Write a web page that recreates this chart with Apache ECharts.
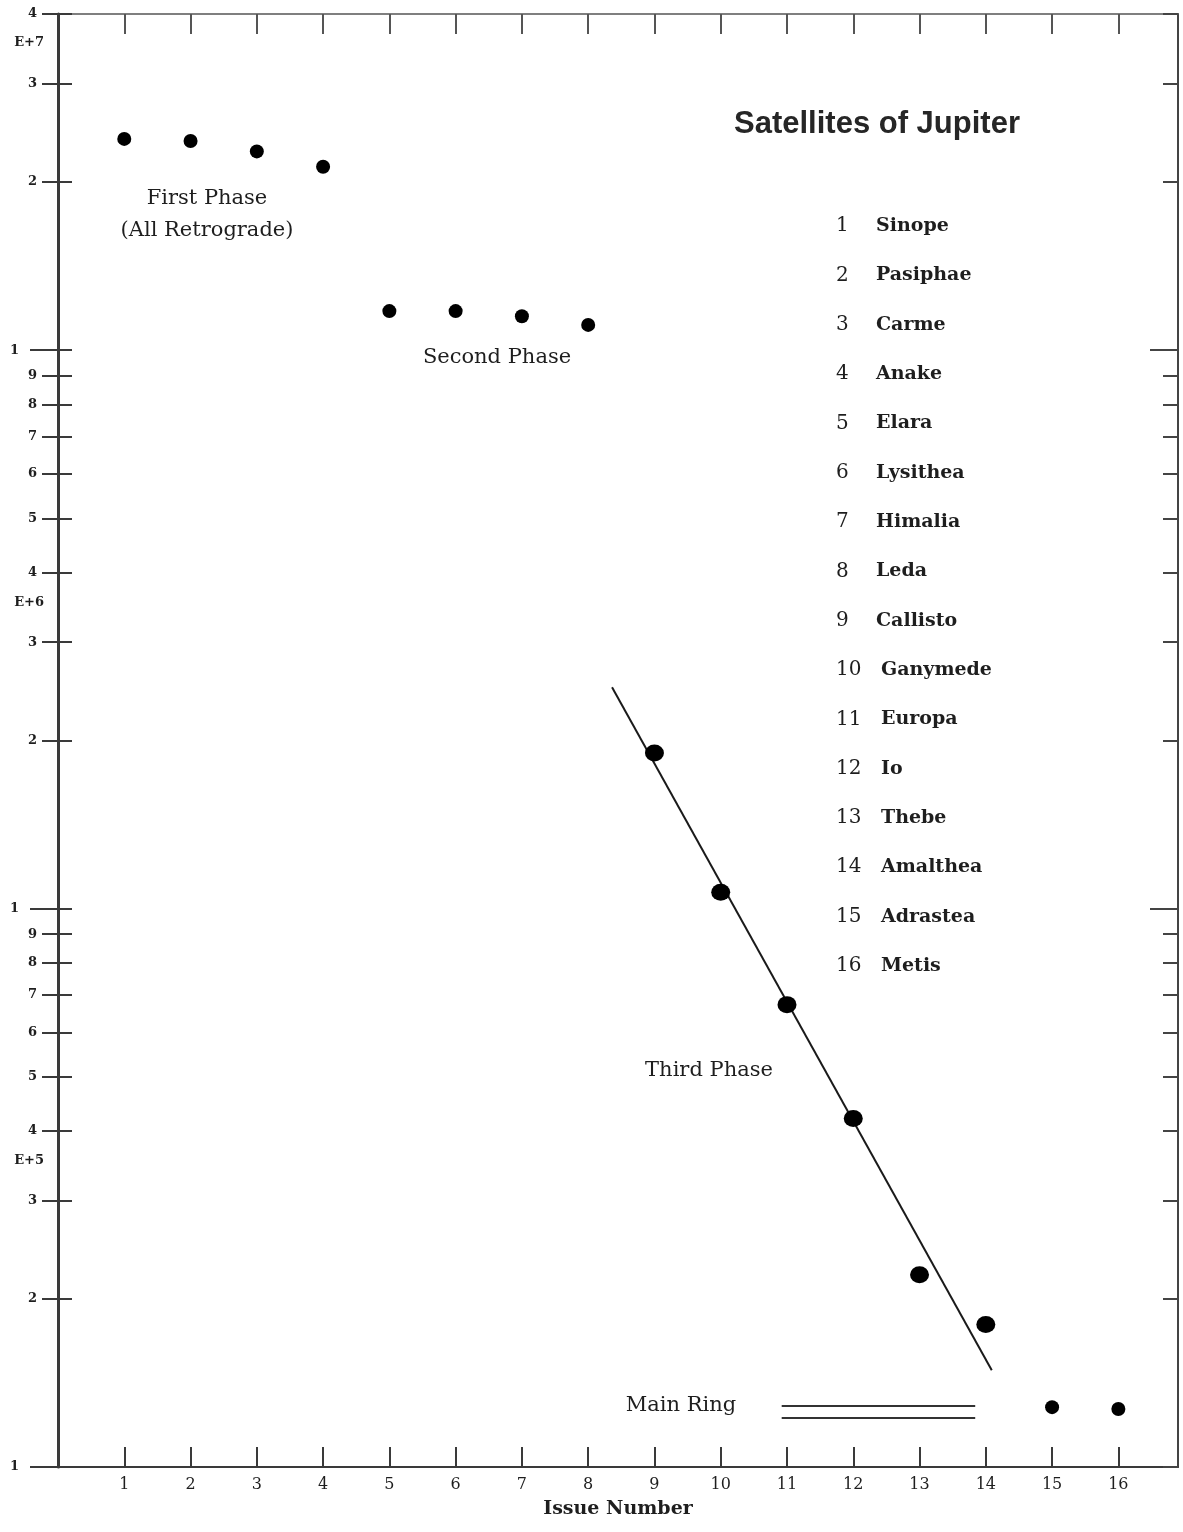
<!DOCTYPE html>
<html>
<head>
<meta charset="utf-8">
<script src="https://cdn.jsdelivr.net/npm/echarts@6/dist/echarts.min.js"></script>
<style>
  html, body { margin: 0; padding: 0; background: #fff; }
  #chart { width: 1183px; height: 1532px; }
</style>
</head>
<body>
<div id="chart"></div>
<script>
// Jovian satellites, numbered by "issue" (order of distance, outermost first)
const satelliteNames = ['Sinope', 'Pasiphae', 'Carme', 'Anake', 'Elara', 'Lysithea', 'Himalia', 'Leda',
  'Callisto', 'Ganymede', 'Europa', 'Io', 'Thebe', 'Amalthea', 'Adrastea', 'Metis'];
const issueNumbers = [1, 2, 3, 4, 5, 6, 7, 8, 9, 10, 11, 12, 13, 14, 15, 16];
// mean orbital distance from Jupiter, km
const orbitRadiusKm = [2.39e7, 2.37e7, 2.27e7, 2.13e7, 1.175e7, 1.175e7, 1.15e7, 1.11e7,
  1.90e6, 1.07e6, 6.73e5, 4.21e5, 2.21e5, 1.80e5, 1.28e5, 1.27e5];

// straight-line trend through the third phase (issue number vs. log distance)
const trendIssue = [8.36, 14.09];
const trendKm = [2.49e6, 1.49e5];

// main ring extent
const ringIssue = [10.92, 13.84];
const ringInnerKm = 1.224e5;
const ringOuterKm = 1.286e5;

// axis ticks and labels
const xTickValues = [1, 2, 3, 4, 5, 6, 7, 8, 9, 10, 11, 12, 13, 14, 15, 16];
const yTickValues = [1e5, 2e5, 3e5, 4e5, 5e5, 6e5, 7e5, 8e5, 9e5,
  1e6, 2e6, 3e6, 4e6, 5e6, 6e6, 7e6, 8e6, 9e6,
  1e7, 2e7, 3e7, 4e7];
const yDecadeTicks = [1e5, 1e6, 1e7];
const yRightMajorTicks = [1e6, 1e7];
const exponentLabelValues = [3.53e5, 3.53e6, 3.56e7];
const exponentLabelTexts = ['E+5', 'E+6', 'E+7'];
const yLabelValues = yTickValues.concat(exponentLabelValues);

const phaseOneTwo = [0, 8];
const phaseThree = [8, 14];
const ringMoons = [14, 16];

function pointsFor(range) {
  const out = [];
  for (let i = range[0]; i < range[1]; i++) out.push([issueNumbers[i], orbitRadiusKm[i]]);
  return out;
}

function yLabel(value) {
  for (let i = 0; i < exponentLabelValues.length; i++) {
    if (Math.abs(value / exponentLabelValues[i] - 1) < 1e-3) return '{e|' + exponentLabelTexts[i] + '}';
  }
  const p = Math.floor(Math.log10(value) + 1e-9);
  const m = Math.round(value / Math.pow(10, p));
  return m === 1 ? '{one|1}' : '{d|' + m + '}';
}

const serif = "'DejaVu Serif', 'Liberation Serif', serif";
const ink = '#1e1e1e';
const axisInk = '#3a3a3a';
const labelBase = { fontFamily: serif, fontWeight: 'bold', fontSize: 13, color: ink };

const yBase = { type: 'log', logBase: 10, min: 1e5, max: 4e7, splitLine: { show: false } };

const chart = echarts.init(document.getElementById('chart'), null, { renderer: 'canvas' });

const graphics = [];
function addText(text, x, y, opts) {
  graphics.push({
    type: 'text', x: x, y: y, silent: true,
    style: Object.assign({
      text: text, fill: ink, font: '21px ' + serif, align: 'center', verticalAlign: 'middle'
    }, opts || {})
  });
}

addText('First Phase', 207, 199);
addText('(All Retrograde)', 207, 231);
addText('Second Phase', 497, 358);
addText('Third Phase', 709, 1071);
addText('Main Ring', 681, 1406);

const listTop = 226, listStep = 49.33;
satelliteNames.forEach(function (name, i) {
  const y = listTop + i * listStep;
  const n = issueNumbers[i];
  addText(String(n), 836, y, { align: 'left', font: '20px ' + serif });
  addText(name, n < 10 ? 876 : 881, y, { align: 'left', font: 'bold 19px ' + serif });
});

const dotStyle = { color: '#000', opacity: 1 };

chart.setOption({
  animation: false,
  backgroundColor: '#ffffff',
  title: {
    text: 'Satellites of Jupiter',
    left: 729, top: 104,
    textStyle: { fontFamily: "'Liberation Sans', Arial, sans-serif", fontWeight: 'bold', fontSize: 31, color: '#262626' }
  },
  grid: { left: 58, right: 5, top: 14, bottom: 65, containLabel: false, outerBoundsMode: 'none' },
  xAxis: [
    {
      type: 'value', position: 'bottom', min: 0, max: 16.9, interval: 1,
      splitLine: { show: false },
      axisLine: { show: true, lineStyle: { color: axisInk, width: 2 } },
      axisTick: { show: true, inside: true, length: 20, customValues: xTickValues, lineStyle: { color: axisInk, width: 2 } },
      axisLabel: { show: true, customValues: xTickValues, margin: 10, fontFamily: serif, fontSize: 16, color: ink },
      name: 'Issue Number', nameLocation: 'middle', nameGap: 33,
      nameTextStyle: { fontFamily: serif, fontWeight: 'bold', fontSize: 19, color: ink }
    },
    {
      type: 'value', position: 'top', min: 0, max: 16.9, interval: 1,
      splitLine: { show: false },
      axisLine: { show: true, lineStyle: { color: '#555', width: 1.5 } },
      axisTick: { show: true, inside: true, length: 20, customValues: xTickValues, lineStyle: { color: '#555', width: 2 } },
      axisLabel: { show: false }
    }
  ],
  yAxis: [
    Object.assign({}, yBase, {
      position: 'left',
      axisLine: { show: true, lineStyle: { color: axisInk, width: 3 } },
      axisTick: { show: true, inside: false, length: 16, customValues: yTickValues, lineStyle: { color: axisInk, width: 2 } },
      axisLabel: {
        show: true, customValues: yLabelValues, margin: 14, formatter: yLabel,
        rich: {
          d: Object.assign({}, labelBase, { padding: [0, 7, 0, 0] }),
          one: Object.assign({}, labelBase, { padding: [0, 25, 0, 0] }),
          e: Object.assign({}, labelBase, { padding: [0, 0, 0, 0] })
        }
      }
    }),
    Object.assign({}, yBase, {
      position: 'left',
      axisLine: { show: false },
      axisTick: { show: true, inside: true, length: 14, customValues: yTickValues, lineStyle: { color: axisInk, width: 2 } },
      axisLabel: { show: false }
    }),
    Object.assign({}, yBase, {
      position: 'left',
      axisLine: { show: false },
      axisTick: { show: true, inside: false, length: 28, customValues: yDecadeTicks, lineStyle: { color: axisInk, width: 2 } },
      axisLabel: { show: false }
    }),
    Object.assign({}, yBase, {
      position: 'right',
      axisLine: { show: true, lineStyle: { color: '#444', width: 2 } },
      axisTick: { show: true, inside: true, length: 15, customValues: yTickValues, lineStyle: { color: '#444', width: 2 } },
      axisLabel: { show: false }
    }),
    Object.assign({}, yBase, {
      position: 'right',
      axisLine: { show: false },
      axisTick: { show: true, inside: true, length: 28, customValues: yRightMajorTicks, lineStyle: { color: '#444', width: 2 } },
      axisLabel: { show: false }
    })
  ],
  graphic: graphics,
  series: [
    {
      name: 'Trend', type: 'line', xAxisIndex: 0, yAxisIndex: 0,
      data: [[trendIssue[0], trendKm[0]], [trendIssue[1], trendKm[1]]],
      showSymbol: false, symbol: 'none', silent: true,
      lineStyle: { color: '#1a1a1a', width: 2, opacity: 1 }, z: 2
    },
    {
      name: 'Main Ring inner', type: 'line', xAxisIndex: 0, yAxisIndex: 0,
      data: [[ringIssue[0], ringInnerKm], [ringIssue[1], ringInnerKm]],
      symbol: 'none', silent: true, lineStyle: { color: '#333', width: 2, opacity: 1 }
    },
    {
      name: 'Main Ring outer', type: 'line', xAxisIndex: 0, yAxisIndex: 0,
      data: [[ringIssue[0], ringOuterKm], [ringIssue[1], ringOuterKm]],
      symbol: 'none', silent: true, lineStyle: { color: '#333', width: 2, opacity: 1 }
    },
    {
      name: 'Outer satellites', type: 'scatter', xAxisIndex: 0, yAxisIndex: 0,
      data: pointsFor(phaseOneTwo), symbol: 'circle', symbolSize: 14,
      itemStyle: dotStyle, z: 3
    },
    {
      name: 'Inner satellites', type: 'scatter', xAxisIndex: 0, yAxisIndex: 0,
      data: pointsFor(phaseThree), symbol: 'circle', symbolSize: [19, 17],
      itemStyle: dotStyle, z: 3
    },
    {
      name: 'Ring satellites', type: 'scatter', xAxisIndex: 0, yAxisIndex: 0,
      data: pointsFor(ringMoons), symbol: 'circle', symbolSize: 14,
      itemStyle: dotStyle, z: 3
    }
  ]
});
</script>
</body>
</html>
